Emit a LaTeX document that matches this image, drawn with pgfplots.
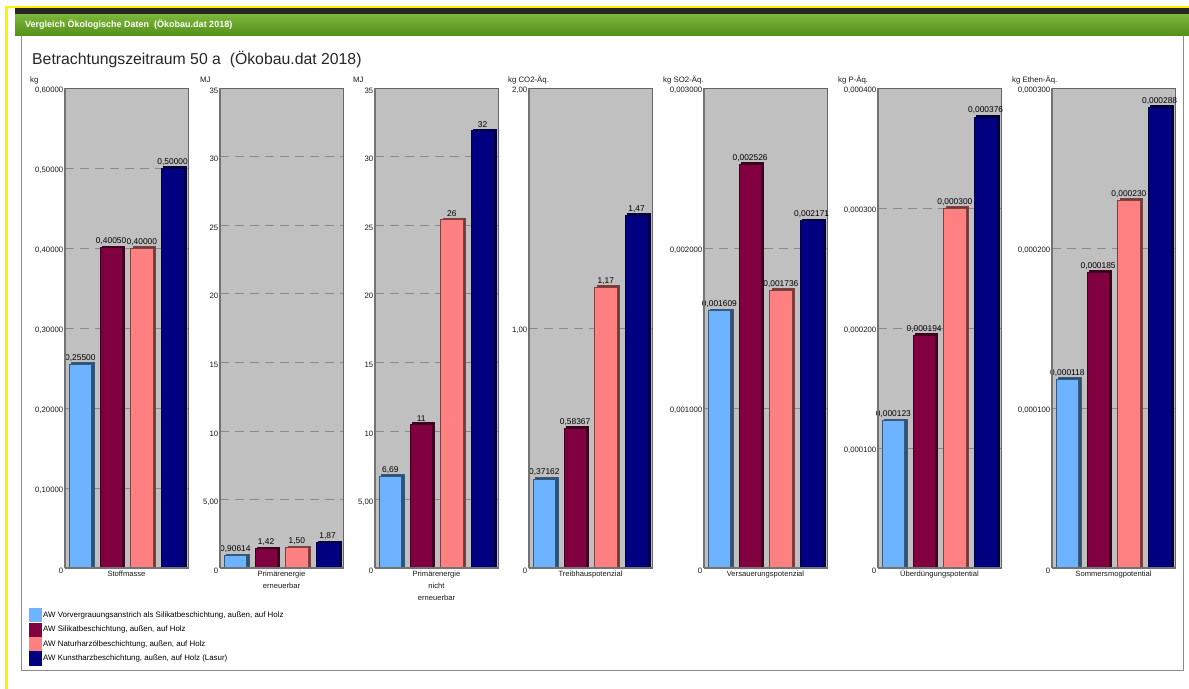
\documentclass[border=0pt]{standalone}
\usepackage{pgfplots}
\pgfplotsset{compat=1.18}
\usepackage{fontspec}
\setmainfont{Liberation Sans}
\definecolor{c1}{HTML}{6DB3FF}
\definecolor{c2}{HTML}{800040}
\definecolor{c3}{HTML}{FF8080}
\definecolor{c4}{HTML}{000080}
\definecolor{bggray}{HTML}{C0C0C0}
\definecolor{gridgray}{HTML}{8A8A8A}
\definecolor{gtop}{HTML}{7DB83C}
\definecolor{gbot}{HTML}{55901A}
\newcommand\tickfont{\fontsize{7.8bp}{9bp}\selectfont}
\newcommand\catfont{\fontsize{7.6bp}{12bp}\selectfont}
\newcommand\valfont{\fontsize{8.4bp}{9bp}\selectfont}
\newcommand\legfont{\fontsize{7.9bp}{9bp}\selectfont}
\pgfplotsset{
  panel/.style={
    scale only axis, width=123bp, height=480bp,
    xmin=0.5, xmax=4.5, ymin=0,
    xtick=\empty,
    scaled y ticks=false,
    axis background/.style={fill=bggray},
    axis line style={draw=black!60, line width=0.6bp},
    ymajorgrids, grid style={draw=gridgray, line width=0.7bp, dash pattern=on 9bp off 6bp},
    major tick length=0pt,
    yticklabel style={font=\tickfont, text=black!90, inner sep=1.5bp, yshift=-2.5bp},
    xlabel style={font=\catfont, text=black!90, align=center, at={(axis description cs:0.5,0)}, anchor=north, inner sep=0pt, yshift=-3bp},
    anchor=south west,
    clip=false,
    after end axis/.code={
      \draw[black!55, line width=2.2bp] (rel axis cs:0,0) -- (rel axis cs:0,1);
      \draw[black!55, line width=2.2bp] (rel axis cs:0,0) -- (rel axis cs:1,0);
    },
  },
  mybar/.style={ybar, bar width=0.73, bar shift=0pt, fill=#1, draw=#1!50!black, line width=0.5bp,
    preaction={fill=#1!45!black, transform canvas={shift={(2.2bp,1.6bp)}}},
    point meta=explicit symbolic, nodes near coords,
    every node near coord/.append style={font=\valfont, text=black, anchor=south, inner sep=1.5bp, yshift=1bp}},
}
\begin{document}
\begin{tikzpicture}
\useasboundingbox (0,0) rectangle (1189bp,-689bp);
\fill[white] (0,0) rectangle (1189bp,-689bp);
% window frame and title bar
\fill[black!70!gray] (15bp,-8bp) rectangle (1189bp,-14bp);
\shade[top color=gtop, bottom color=gbot] (15bp,-14bp) rectangle (1189bp,-35bp);
\node[anchor=west, text=white, font=\fontsize{9bp}{10bp}\selectfont\bfseries, inner sep=0pt] at (25bp,-25bp) {Vergleich Ökologische Daten \ (Ökobau.dat 2018)};
\draw[black!45, line width=1bp] (21bp,-35bp) -- (21bp,-670bp) -- (1183bp,-670bp) -- (1183bp,-35bp);
\fill[yellow] (5bp,-6bp) rectangle (1189bp,-8bp);
\fill[yellow] (5bp,-6bp) rectangle (7.5bp,-689bp);
\node[anchor=west, text=black!85, font=\fontsize{15.8bp}{18bp}\selectfont, inner sep=0pt] at (32bp,-60bp) {Betrachtungszeitraum 50 a \ (Ökobau.dat 2018)};
% unit labels
\foreach \u/\x in {kg/30, MJ/200, MJ/353, kg CO2-Äq./508, kg SO2-Äq./663, kg P-Äq./838, kg Ethen-Äq./1012}
  \node[anchor=base west, font=\tickfont, text=black!90, inner sep=0pt] at (\x bp,-82bp) {\u};

% Panel 1
\begin{axis}[panel, at={(65bp,-568bp)}, ymax=0.6,
  ytick={0,0.1,0.2,0.3,0.4,0.5,0.6},
  yticklabels={0,{0,10000},{0,20000},{0,30000},{0,40000},{0,50000},{0,60000}},
  xlabel={Stoffmasse},
  legend style={at={(axis description cs:-0.2927,-0.0833)}, anchor=north west, draw=none, fill=none,
    font=\legfont, inner sep=0pt, row sep=0.2bp, cells={anchor=west}, nodes={inner sep=1bp}},
  legend image code/.code={\fill[#1] (0bp,-7.1bp) rectangle (13bp,7.1bp);},
]
\addlegendimage{fill=c1, draw=none}
\addlegendentry{AW Vorvergrauungsanstrich als Silikatbeschichtung, außen, auf Holz}
\addlegendimage{fill=c2, draw=none}
\addlegendentry{AW Silikatbeschichtung, außen, auf Holz}
\addlegendimage{fill=c3, draw=none}
\addlegendentry{AW Naturharzölbeschichtung, außen, auf Holz}
\addlegendimage{fill=c4, draw=none}
\addlegendentry{AW Kunstharzbeschichtung, außen, auf Holz (Lasur)}
\addplot[mybar=c1, forget plot] coordinates {(1,0.255) [0,25500]};
\addplot[mybar=c2, forget plot] coordinates {(2,0.4005) [0,40050]};
\addplot[mybar=c3, forget plot] coordinates {(3,0.40) [0,40000]};
\addplot[mybar=c4, forget plot] coordinates {(4,0.50) [0,50000]};
\end{axis}

% Panel 2
\begin{axis}[panel, at={(220bp,-568bp)}, ymax=35,
  ytick={0,5,10,15,20,25,30,35},
  yticklabels={0,{5,00},10,15,20,25,30,35},
  xlabel={Primärenergie\\erneuerbar}]
\addplot[mybar=c1] coordinates {(1,0.90614) [0,90614]};
\addplot[mybar=c2] coordinates {(2,1.42) [1,42]};
\addplot[mybar=c3] coordinates {(3,1.50) [1,50]};
\addplot[mybar=c4] coordinates {(4,1.87) [1,87]};
\end{axis}

% Panel 3
\begin{axis}[panel, at={(375bp,-568bp)}, ymax=35,
  ytick={0,5,10,15,20,25,30,35},
  yticklabels={0,{5,00},10,15,20,25,30,35},
  xlabel={Primärenergie\\nicht\\erneuerbar}]
\addplot[mybar=c1] coordinates {(1,6.69) [6,69]};
\addplot[mybar=c2] coordinates {(2,10.5) [11]};
\addplot[mybar=c3] coordinates {(3,25.4) [26]};
\addplot[mybar=c4] coordinates {(4,31.9) [32]};
\end{axis}

% Panel 4
\begin{axis}[panel, at={(529bp,-568bp)}, ymax=2,
  ytick={0,1,2},
  yticklabels={0,{1,00},{2,00}},
  xlabel={Treibhauspotenzial}]
\addplot[mybar=c1] coordinates {(1,0.37162) [0,37162]};
\addplot[mybar=c2] coordinates {(2,0.58367) [0,58367]};
\addplot[mybar=c3] coordinates {(3,1.17) [1,17]};
\addplot[mybar=c4] coordinates {(4,1.47) [1,47]};
\end{axis}

% Panel 5
\begin{axis}[panel, at={(704bp,-568bp)}, ymax=0.003,
  ytick={0,0.001,0.002,0.003},
  yticklabels={0,{0,001000},{0,002000},{0,003000}},
  xlabel={Versauerungspotenzial}]
\addplot[mybar=c1] coordinates {(1,0.001609) [0,001609]};
\addplot[mybar=c2] coordinates {(2,0.002526) [0,002526]};
\addplot[mybar=c3] coordinates {(3,0.001736) [0,001736]};
\addplot[mybar=c4] coordinates {(4,0.002171) [0,002171]};
\end{axis}

% Panel 6
\begin{axis}[panel, at={(878bp,-568bp)}, ymax=0.0004,
  ytick={0,0.0001,0.0002,0.0003,0.0004},
  yticklabels={0,{0,000100},{0,000200},{0,000300},{0,000400}},
  xlabel={Überdüngungspotential},
  xlabel style={yshift=0.6bp}]
\addplot[mybar=c1] coordinates {(1,0.000123) [0,000123]};
\addplot[mybar=c2] coordinates {(2,0.000194) [0,000194]};
\addplot[mybar=c3] coordinates {(3,0.000300) [0,000300]};
\addplot[mybar=c4] coordinates {(4,0.000376) [0,000376]};
\end{axis}

% Panel 7
\begin{axis}[panel, at={(1052bp,-568bp)}, ymax=0.0003,
  ytick={0,0.0001,0.0002,0.0003},
  yticklabels={0,{0,000100},{0,000200},{0,000300}},
  xlabel={Sommersmogpotential}]
\addplot[mybar=c1] coordinates {(1,0.000118) [0,000118]};
\addplot[mybar=c2] coordinates {(2,0.000185) [0,000185]};
\addplot[mybar=c3] coordinates {(3,0.000230) [0,000230]};
\addplot[mybar=c4] coordinates {(4,0.000288) [0,000288]};
\end{axis}
\end{tikzpicture}
\end{document}
